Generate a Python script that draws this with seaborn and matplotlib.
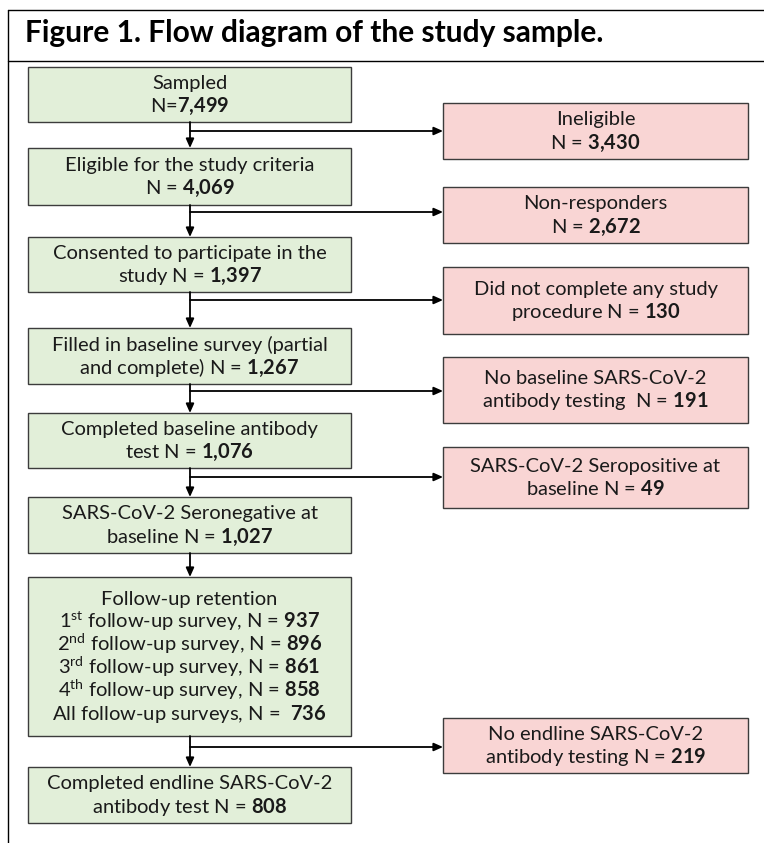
import matplotlib
matplotlib.use("Agg")
import matplotlib.pyplot as plt
import seaborn as sns
from matplotlib.patches import Rectangle

# ---- diagram content ----
title = "Figure 1. Flow diagram of the study sample."

main_labels = ["Sampled\nN=",
               "Eligible for the study criteria\nN = ",
               "Consented to participate in the\nstudy N = ",
               "Filled in baseline survey (partial\nand complete) N = ",
               "Completed baseline antibody\ntest N = ",
               "SARS-CoV-2 Seronegative at\nbaseline N = ",
               "Completed endline SARS-CoV-2\nantibody test N = "]
main_counts = [7499, 4069, 1397, 1267, 1076, 1027, 808]

followup_title = "Follow-up retention"
followup_labels = ["1^{st} follow-up survey, N = ",
                   "2^{nd} follow-up survey, N = ",
                   "3^{rd} follow-up survey, N = ",
                   "4^{th} follow-up survey, N = ",
                   "All follow-up surveys, N =  "]
followup_counts = [937, 896, 861, 858, 736]

excl_labels = ["Ineligible\nN = ",
               "Non-responders\nN = ",
               "Did not complete any study\nprocedure N = ",
               "No baseline SARS-CoV-2\nantibody testing  N = ",
               "SARS-CoV-2 Seropositive at\nbaseline N = ",
               "No endline SARS-CoV-2\nantibody testing N = "]
excl_counts = [3430, 2672, 130, 191, 49, 219]

# ---- layout (pixel space) ----
main_x = (28, 351)
excl_x = (443, 748)
stem_x = 190
main_rows = [(67, 122), (148, 205), (237, 292), (328, 384), (413, 468),
             (497, 553), (767, 823)]
followup_row = (577, 736)
excl_rows = [(103, 159), (187, 243), (267, 334), (357, 423), (447, 508),
             (718, 773)]
branch_y = [131, 212, 300, 391, 477, 747]

green = "#e2efd9"
pink = "#f9d5d4"
edge = "#3c3c3c"
line_gap = 23.0
fs = 14.5

sns.set_theme(style="white")
plt.rcParams["font.family"] = ["Lato", "DejaVu Sans"]
plt.rcParams["mathtext.fontset"] = "custom"
plt.rcParams["mathtext.rm"] = "Lato"
plt.rcParams["mathtext.bf"] = "Lato:bold"
plt.rcParams["mathtext.it"] = "Lato:italic"


def bold_num(n):
    return r"$\mathbf{" + f"{n:,}".replace(",", "{,}") + "}$"


def sup_line(s):
    # turn "1^{st} ..." into mathtext superscript
    if "^" in s:
        head, rest = s.split("}", 1)
        num, sup = head.split("^{")
        return r"$\mathrm{" + num + r"}^{\mathrm{" + sup + "}}$" + rest
    return s


def draw_box(ax, xs, ys, color, lines):
    ax.add_patch(Rectangle((xs[0], ys[0]), xs[1] - xs[0], ys[1] - ys[0],
                           facecolor=color, edgecolor=edge, lw=1.0, zorder=2))
    cx = (xs[0] + xs[1]) / 2
    cy = (ys[0] + ys[1]) / 2
    n = len(lines)
    for i, txt in enumerate(lines):
        y = cy + 6 + (i - (n - 1) / 2) * line_gap
        ax.text(cx, y, txt, ha="center", va="baseline", fontsize=fs,
                color="#1a1a1a", zorder=3)


def arrow(ax, x0, y0, x1, y1):
    ax.annotate("", xy=(x1, y1), xytext=(x0, y0),
                arrowprops=dict(arrowstyle="-|>,head_length=0.45,head_width=0.2",
                                color="black", lw=1.3, shrinkA=0, shrinkB=0),
                zorder=4)


fig = plt.figure(figsize=(7.64, 8.43), dpi=100)
ax = fig.add_axes([0, 0, 1, 1])
ax.set_xlim(0, 764)
ax.set_ylim(843, 0)
ax.axis("off")

# frame around title
ax.plot([8, 764], [10, 10], color="black", lw=1.0)
ax.plot([8, 764], [61, 61], color="black", lw=1.0)
ax.plot([8, 8], [10, 843], color="black", lw=1.0)
ax.text(25, 42, title, fontsize=21.5, fontweight="bold", ha="left",
        va="baseline", color="black")

# main column
for k, (lab, cnt) in enumerate(zip(main_labels, main_counts)):
    parts = lab.split("\n")
    parts[-1] = parts[-1] + bold_num(cnt)
    draw_box(ax, main_x, main_rows[k], green, parts)

fu_lines = [followup_title] + [sup_line(l) + bold_num(c)
                               for l, c in zip(followup_labels, followup_counts)]
draw_box(ax, main_x, followup_row, green, fu_lines)

# exclusion column
for k, (lab, cnt) in enumerate(zip(excl_labels, excl_counts)):
    parts = lab.split("\n")
    parts[-1] = parts[-1] + bold_num(cnt)
    draw_box(ax, excl_x, excl_rows[k], pink, parts)

# vertical connectors
col_rows = main_rows[:6] + [followup_row] + main_rows[6:]
for a, b in zip(col_rows[:-1], col_rows[1:]):
    arrow(ax, stem_x, a[1], stem_x, b[0])

# side branches
for y, r in zip(branch_y, excl_rows):
    arrow(ax, stem_x, y, excl_x[0], y)

fig.savefig("out.png", dpi=100, facecolor="white")
